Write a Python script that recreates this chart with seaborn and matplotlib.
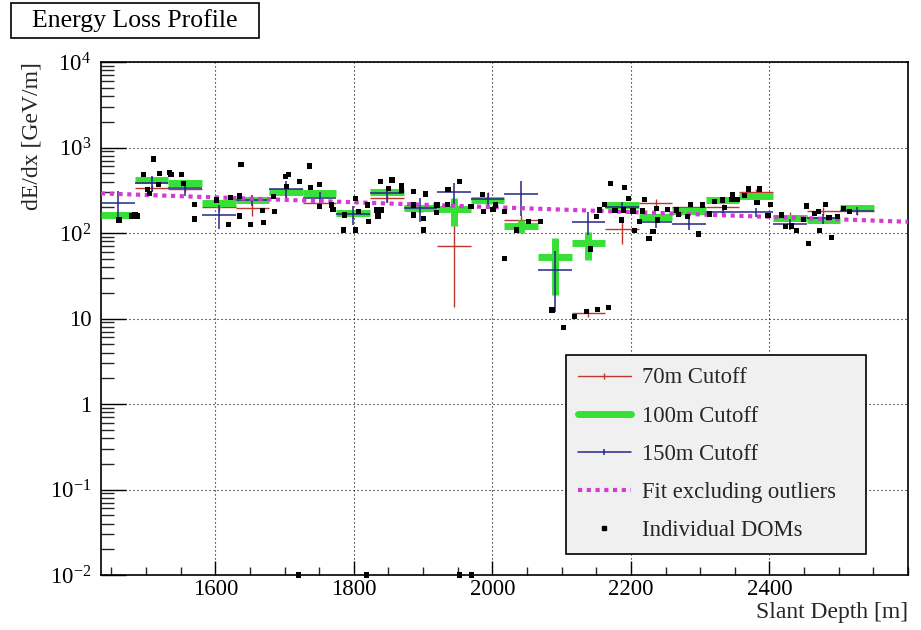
import numpy as np
import pandas as pd
import matplotlib
matplotlib.use("Agg")
import matplotlib.pyplot as plt
import seaborn as sns
from matplotlib.lines import Line2D
from matplotlib.patches import Rectangle
from matplotlib.ticker import FixedLocator, FixedFormatter, MultipleLocator, LogLocator, NullFormatter

# Slant-depth bins (centres, m) shared by the three cutoff reconstructions
bin_centers = [1459.5, 1508.0, 1556.5, 1605.0, 1653.5, 1702.0, 1750.5, 1799.0,
               1847.5, 1896.0, 1944.5, 1993.0, 2041.5, 2090.0, 2138.5, 2187.0,
               2235.5, 2284.0, 2332.5, 2381.0, 2429.5, 2478.0, 2526.5]
bin_half_width = 24.25

# dE/dx per bin [GeV/m] and uncertainties
cut70_dedx = [165, 336, 330, 203, 194, 290, 222, 165, 255, 194, 70.5, 248, 142,
              np.nan, 11.5, 110, 222, 200, 200, 304, 160, 181, 181]
cut70_err = [14, 30, 30, 20, 38, 30, 25, 15, 25, 20, 57, 50, 20,
             np.nan, 1.0, 35, 25, 20, 20, 25, 15, 20, 20]

cut100_dedx = [162, 417, 385, 222, 243, 304, 296, 170, 300, 194, 190, 240, 121,
               53, 76, 215, 155, 181, 243, 273, 149, 142, 198]
cut100_err = [14, 35, 32, 18, 20, 25, 25, 14, 25, 16, 68, 20, 20,
              34, 28, 18, 13, 15, 20, 22, 12, 12, 16]

cut150_dedx = [226, 385, 336, 162, 240, 330, 255, 165, 290, 194, 304, 250, 284,
               37, 135, 200, 135, 127, 175, 175, 127, 149, 181]
cut150_err = [80, 85, 65, 50, 35, 75, 50, 40, 65, 60, 85, 40, 125,
              25, 40, 30, 20, 20, 20, 20, 18, 20, 20]

# Individual DOM estimates
dom_depth = [1511, 1496, 1520, 1534, 1536, 1551, 1518, 1502, 1505, 1461, 1479, 1484,
             1487, 1554, 1570, 1570, 1637, 1602, 1619, 1622, 1635, 1635, 1651, 1668,
             1670, 1686, 1684, 1701, 1706, 1703, 1721, 1736, 1737, 1751, 1751, 1768,
             1770, 1785, 1802, 1802, 1807, 1821, 1787, 1838, 1855, 1850, 1869, 1869,
             1886, 1903, 1820, 1833, 1840, 1835, 1886, 1886, 1900, 1901, 1920, 1919,
             1935, 1936, 1953, 1969, 1986, 1987, 2001, 2004, 2018, 2018, 2035, 2052,
             2070, 2086, 2103, 2119, 2136, 2152, 2168, 2142, 2150, 2155, 2162, 2170,
             2191, 2177, 2189, 2186, 2196, 2203, 2205, 2220, 2217, 2212, 2232, 2226,
             2237, 2238, 2253, 2266, 2269, 2282, 2286, 2303, 2298, 2314, 2321, 2335,
             2332, 2345, 2347, 2353, 2364, 2370, 2386, 2382, 2398, 2402, 2417, 2423,
             2432, 2439, 2449, 2454, 2456, 2465, 2471, 2472, 2481, 2486, 2490, 2498,
             2507, 2515]
dom_dedx = [733, 486, 499, 513, 486, 486, 371, 325, 291, 142, 158, 162.5,
            158, 381, 217, 146, 636, 243, 126.5, 259, 158, 271, 126.5, 182,
            132, 177, 266, 455, 486, 348, 398, 608, 339, 371, 203, 212,
            189, 108.4, 108.4, 255, 177, 135.5, 162.5, 398, 417, 333, 355, 318,
            304, 286, 212, 186, 186, 158, 212, 162.5, 149, 108.4, 212, 173,
            217, 325, 398, 203, 284, 177, 189, 212, 177, 50.6, 108.4, 135.5,
            135.5, 12.6, 7.9, 10.5, 12.0, 12.8, 13.5, 65, 155, 186, 217, 381,
            339, 182, 186, 142, 255, 181, 106, 248, 181, 135.5, 103.5, 86.7,
            194.5, 142, 189, 186, 165.5, 155, 217, 212, 97.3, 167, 232, 200,
            243, 248, 284, 248, 273, 327, 327, 226, 159, 217, 162.5, 118.6,
            121, 106.4, 144.5, 207, 75.8, 170, 177, 106.4, 217, 151, 89, 155,
            194.5, 177]
# DOMs with no measurable deposit sit on the lower edge of the axis
dom_floor_depth = [1720, 1818, 1953, 1970]
dom_floor_dedx = [0.01, 0.01, 0.01, 0.01]

# Exponential fit, outliers excluded: dE/dx = norm * exp(-X / length)
fit_norm = 746.0
fit_length = 1523.0

c_red = "#c0352d"
c_green = "#36e036"
c_blue = "#26268a"
c_fit = "#d23cd2"

sns.set_theme(style="white")
plt.rcParams["font.family"] = ["Liberation Serif", "DejaVu Serif"]
plt.rcParams["mathtext.fontset"] = "custom"
plt.rcParams["mathtext.rm"] = "Liberation Serif"
plt.rcParams["mathtext.it"] = "Liberation Serif:italic"

W, H = 921, 630
fig = plt.figure(figsize=(W / 100, H / 100), dpi=100)
fig.patch.set_facecolor("white")
ax = fig.add_axes([101 / W, 55 / H, 807 / W, 513 / H])
ax.set_facecolor("white")
ax.set_yscale("log")
ax.set_xlim(1435, 2600)
ax.set_ylim(1e-2, 1e4)

bins = pd.DataFrame({
    "depth": bin_centers,
    "c70": cut70_dedx, "e70": cut70_err,
    "c100": cut100_dedx, "e100": cut100_err,
    "c150": cut150_dedx, "e150": cut150_err,
})

def draw_cutoff(col, ecol, color, lw, z):
    d = bins.dropna(subset=[col])
    ax.errorbar(d["depth"], d[col], xerr=bin_half_width, yerr=d[ecol], fmt="none",
                ecolor=color, elinewidth=lw, capsize=0, zorder=z)

draw_cutoff("c70", "e70", c_red, 1.0, 2)
draw_cutoff("c100", "e100", c_green, 5.0, 3)
draw_cutoff("c150", "e150", c_blue, 1.1, 4)

depth_grid = np.linspace(1435, 2600, 300)
fit_df = pd.DataFrame({"depth": depth_grid,
                       "dedx": fit_norm * np.exp(-depth_grid / fit_length)})
sns.lineplot(data=fit_df, x="depth", y="dedx", ax=ax, color=c_fit, lw=3,
             zorder=5, legend=False)
ax.lines[-1].set_linestyle((0, (1, 1.1)))
ax.lines[-1].set_dash_capstyle("butt")

dom_df = pd.DataFrame({"depth": dom_depth, "dedx": dom_dedx})
sns.scatterplot(data=dom_df, x="depth", y="dedx", ax=ax, marker="s", s=14,
                color="black", edgecolor="none", linewidth=0, zorder=6, legend=False)
floor = ax.scatter(dom_floor_depth, dom_floor_dedx, marker="s", s=14, color="black",
                   edgecolors="none", zorder=6)
floor.set_clip_on(False)

# Axes styling
ax.xaxis.set_major_locator(FixedLocator([1600, 1800, 2000, 2200, 2400]))
ax.xaxis.set_minor_locator(MultipleLocator(50))
ax.yaxis.set_major_locator(FixedLocator([1e-2, 1e-1, 1, 10, 1e2, 1e3, 1e4]))
ax.yaxis.set_major_formatter(FixedFormatter([
    r"$\mathregular{10^{-2}}$", r"$\mathregular{10^{-1}}$", "1", "10",
    r"$\mathregular{10^{2}}$", r"$\mathregular{10^{3}}$", r"$\mathregular{10^{4}}$"]))
ax.yaxis.set_minor_locator(LogLocator(base=10, subs=np.arange(2, 10), numticks=20))
ax.yaxis.set_minor_formatter(NullFormatter())

ax.tick_params(axis="x", which="major", direction="in", length=10, width=1.0,
               labelsize=16.5, pad=3, bottom=True, top=False, colors="black")
ax.tick_params(axis="x", which="minor", direction="in", length=6, width=1.0,
               bottom=True, top=False)
ax.tick_params(axis="y", which="major", direction="in", length=18, width=1.0,
               labelsize=16.5, pad=7, left=True, right=False, colors="black")
ax.tick_params(axis="y", which="minor", direction="in", length=9, width=1.0,
               left=True, right=False)

ax.grid(True, which="major", color="black", lw=0.8, ls=(0, (1, 2.6)))
for s in ax.spines.values():
    s.set_color("black")
    s.set_linewidth(1.2)

ax.set_xlabel("Slant Depth [m]", fontsize=17, ha="right")
ax.xaxis.set_label_coords(1.0, -0.053)
ax.xaxis.label.set_va("top")
ax.set_ylabel("dE/dx [GeV/m]", fontsize=17, ha="right")
ax.yaxis.set_label_coords(-0.072, 1.0)

# Legend
handles = [
    Line2D([], [], color=c_red, lw=1.0, marker="|", markersize=4, markeredgewidth=1.0),
    Line2D([], [], color=c_green, lw=5.0),
    Line2D([], [], color=c_blue, lw=1.1, marker="|", markersize=4, markeredgewidth=1.1),
    Line2D([], [], color=c_fit, lw=3, linestyle=(0, (1, 1.1)), dash_capstyle="butt"),
    Line2D([], [], color="black", marker="s", markersize=3, linestyle="none"),
]
labels = ["70m Cutoff", "100m Cutoff", "150m Cutoff", "Fit excluding outliers",
          "Individual DOMs"]
leg = ax.legend(handles, labels, loc="upper left",
                bbox_to_anchor=((566 - 101) / 807, (575 - 355) / 513, 300 / 807, 0.0),
                mode="expand", fontsize=16.3, frameon=True, fancybox=False,
                edgecolor="black", facecolor="#f0f0f0", framealpha=1.0,
                handlelength=2.3, handletextpad=0.5, labelspacing=0.76,
                borderpad=0.55, borderaxespad=0.0)
leg.get_frame().set_linewidth(1.2)
leg.set_zorder(10)

# Title box in the upper-left corner
title = fig.text(32 / W, 1 - 21 / H, "Energy Loss Profile", fontsize=18.5,
                 ha="left", va="center", color="black")
fig.canvas.draw()
bb = title.get_window_extent(fig.canvas.get_renderer())
box_right = bb.x1 + 21
fig.add_artist(Rectangle((11 / W, 1 - 38 / H), (box_right - 11) / W, 35 / H,
                         transform=fig.transFigure, facecolor="white",
                         edgecolor="black", lw=1.2, zorder=0))

fig.savefig("out.png", dpi=100)
